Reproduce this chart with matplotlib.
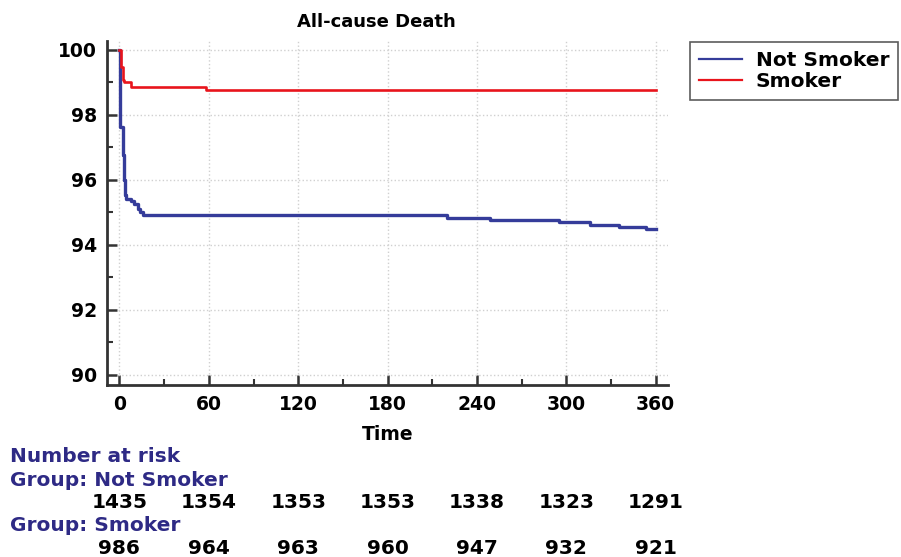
import matplotlib
matplotlib.use("Agg")
import matplotlib.pyplot as plt
import matplotlib.transforms as mtransforms
from matplotlib.ticker import MultipleLocator

plt.rcParams['font.family'] = ['DejaVu Sans']
plt.rcParams['font.weight'] = 'bold'

# ---- data ----
time_not_smoker = [0, 0.5, 2.2, 3.4, 3.8, 4.5, 7.8, 10, 12.2, 13.5, 15.7,
                   219.8, 248.5, 295, 315.8, 335.3, 353.7, 360]
surv_not_smoker = [100, 97.62, 96.78, 96.0, 95.53, 95.4, 95.35, 95.25, 95.1, 95.0, 94.92,
                   94.84, 94.77, 94.70, 94.62, 94.54, 94.48, 94.48]

time_smoker = [0, 1, 2.2, 3.4, 7.8, 58.3, 360]
surv_smoker = [100, 99.49, 99.08, 99.0, 98.87, 98.76, 98.76]

risk_times = [0, 60, 120, 180, 240, 300, 360]
risk_not_smoker = [1435, 1354, 1353, 1353, 1338, 1323, 1291]
risk_smoker = [986, 964, 963, 960, 947, 932, 921]

blue = '#353c9a'
red = '#e8141c'
navy = '#2e2a85'
fs = 13.5
fs_tab = 14.5

fig = plt.figure(figsize=(9.01, 5.57), dpi=100)
ax = fig.add_axes([0.1185, 0.309, 0.6225, 0.617])

ax.step(time_not_smoker, surv_not_smoker, where='post', color=blue, lw=2.4, label='Not Smoker')
ax.step(time_smoker, surv_smoker, where='post', color=red, lw=1.9, label='Smoker')

ax.set_xlim(-8.5, 368)
ax.set_ylim(89.69, 100.27)
ax.xaxis.set_major_locator(MultipleLocator(60))
ax.xaxis.set_minor_locator(MultipleLocator(30))
ax.yaxis.set_major_locator(MultipleLocator(2))
ax.yaxis.set_minor_locator(MultipleLocator(1))

ax.grid(True, which='major', color='#d0d0d0', linestyle=':', linewidth=1.0)
for s in ['top', 'right']:
    ax.spines[s].set_visible(False)
for s in ['left', 'bottom']:
    ax.spines[s].set_linewidth(2.0)
    ax.spines[s].set_color('#333333')

ax.tick_params(which='major', direction='in', length=7, width=1.8, color='#333333',
               labelsize=fs, pad=7)
ax.tick_params(which='minor', direction='in', length=4, width=1.5, color='#333333')
for lab in ax.get_xticklabels() + ax.get_yticklabels():
    lab.set_fontweight('bold')

ax.set_title('All-cause Death', fontsize=13, fontweight='bold', pad=10, x=0.48)
ax.set_xlabel('Time', fontsize=fs, fontweight='bold', labelpad=8)

fig.legend(loc='upper left', bbox_to_anchor=(0.766, 0.925), frameon=True, fancybox=False,
           edgecolor='#333333', fontsize=fs_tab, handlelength=2.1, borderpad=0.45,
           labelspacing=0.12, handletextpad=0.7, borderaxespad=0)
leg = fig.legends[0]
leg.get_frame().set_linewidth(1.2)
for line in leg.get_lines():
    line.set_linewidth(1.6)
for t in leg.get_texts():
    t.set_fontweight('bold')

# ---- number at risk table ----
fig.text(0.011, 0.18, 'Number at risk', color=navy, fontsize=fs_tab, fontweight='bold', va='center')
fig.text(0.011, 0.138, 'Group: Not Smoker', color=navy, fontsize=fs_tab, fontweight='bold', va='center')
fig.text(0.011, 0.057, 'Group: Smoker', color=navy, fontsize=fs_tab, fontweight='bold', va='center')

trans = mtransforms.blended_transform_factory(ax.transData, fig.transFigure)
for x, n in zip(risk_times, risk_not_smoker):
    ax.text(x, 0.097, str(n), transform=trans, ha='center', va='center',
            fontsize=fs_tab, fontweight='bold', clip_on=False)
for x, n in zip(risk_times, risk_smoker):
    ax.text(x, 0.016, str(n), transform=trans, ha='center', va='center',
            fontsize=fs_tab, fontweight='bold', clip_on=False)

fig.savefig('out.png', dpi=100)
